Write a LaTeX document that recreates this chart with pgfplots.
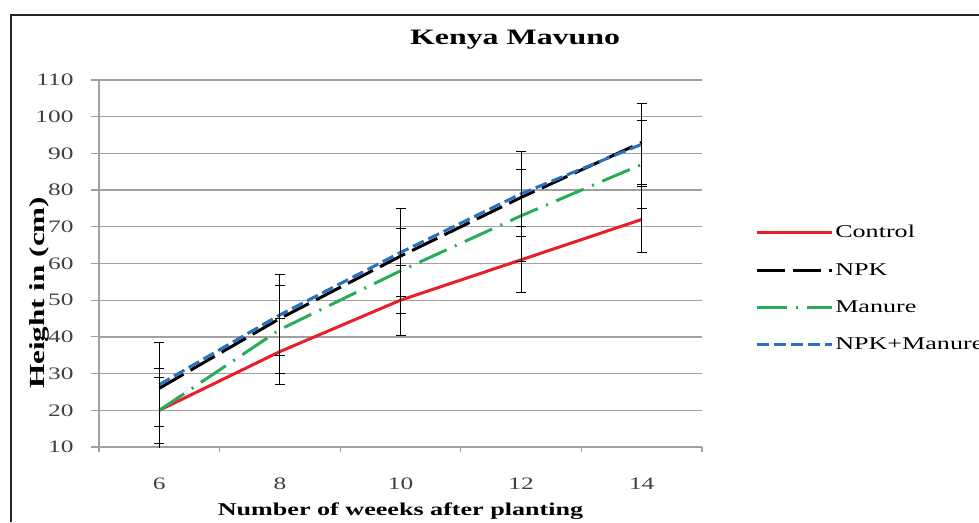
\documentclass[border=0pt]{standalone}
\usepackage{pgfplots}
\pgfplotsset{compat=1.18}
\usepackage{fontspec}
\setmainfont{Liberation Serif}[FakeStretch=1.45]
\definecolor{cred}{RGB}{232,30,40}
\definecolor{cgreen}{RGB}{40,172,90}
\definecolor{cblue}{RGB}{40,112,192}
\definecolor{cgrid}{RGB}{160,160,160}
\begin{document}
\begin{tikzpicture}
\path[use as bounding box] (0,0) rectangle (979pt,522pt);
\draw[line width=1.5pt, black!85] (11pt,0pt) -- (11pt,507pt) -- (985pt,507pt);
\begin{axis}[
  at={(99pt,75pt)}, anchor=south west,
  scale only axis, width=603pt, height=367pt,
  xmin=5, xmax=15, ymin=10, ymax=110,
  xtick={6,8,10,12,14},
  minor xtick={5,7,9,11,13,15},
  ytick={10,20,...,110},
  axis lines=left,
  axis line style={-, cgrid, line width=1.2pt},
  ymajorgrids, grid style={cgrid, line width=1.3pt},
  major x tick style={draw=none},
  minor x tick style={cgrid, line width=1.2pt},
  ytick style={cgrid, line width=1.2pt},
  tick align=outside,
  major tick length=8pt, minor tick length=5pt,
  /pgf/number format/assume math mode=true,
  tick label style={font=\fontsize{17.5}{20}\selectfont, text=black!75},
  yticklabel style={xshift=-14pt},
  xticklabel style={yshift=-19pt},
  title={\textbf{Kenya Mavuno}},
  title style={at={(0.69,1)}, anchor=base, yshift=29pt, font=\fontsize{22}{26}\selectfont},
  xlabel={\textbf{Number of weeeks after planting}},
  xlabel style={at={(0.5,0)}, anchor=base, yshift=-68pt, font=\fontsize{18}{22}\selectfont},
  ylabel={\textbf{Height in (cm)}},
  ylabel style={at={(-0.098,0.42)}, anchor=center, font=\fontsize{21.5}{26}\selectfont},
  legend style={at={(1.088,0.615)}, anchor=north west, draw=none, fill=none,
    font=\fontsize{18}{22}\selectfont, row sep=20pt, inner xsep=0pt,
    /tikz/every even column/.append style={column sep=0pt}},
  legend cell align=left,
  legend image code/.code={\draw[#1] (0pt,0pt) -- (75pt,0pt);},
  error bars/y dir=both, error bars/y explicit,
  error bars/error bar style={solid, black, line width=0.9pt},
  error bars/error mark options={solid, black, mark size=5pt, line width=0.9pt, rotate=90},
]
\addplot[cred, line width=3pt, mark=none] coordinates {
  (6,20) +- (0,9) (8,36) +- (0,9) (10,50) +- (0,9.5) (12,61) +- (0,9) (14,72) +- (0,9)};
\addlegendentry{Control}
\addplot[black, line width=3pt, mark=none, dash pattern=on 28pt off 8pt] coordinates {
  (6,26) (8,45) (10,62) (12,78) (14,93)};
\addlegendentry{NPK}
\addplot[cgreen, line width=3pt, mark=none, dash pattern=on 30pt off 9pt on 2pt off 9pt] coordinates {
  (6,20) +- (0,11.5) (8,42) +- (0,12) (10,58) +- (0,11.5) (12,73) +- (0,12.5) (14,87) +- (0,12)};
\addlegendentry{Manure}
\addplot[cblue, line width=3pt, mark=none, dash pattern=on 12pt off 5pt] coordinates {
  (6,27) +- (0,11.5) (8,46) +- (0,11) (10,63) +- (0,12) (12,79) +- (0,11.5) (14,92.5) +- (0,11)};
\addlegendentry{NPK+Manure}
\end{axis}
\end{tikzpicture}
\end{document}
